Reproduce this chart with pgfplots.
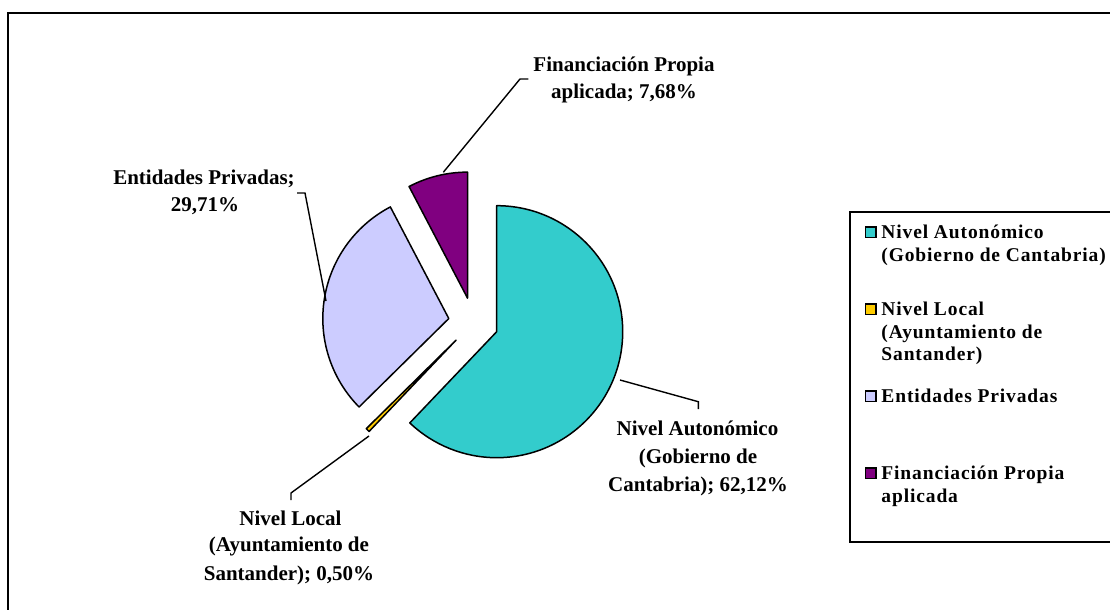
\documentclass[border=0pt]{standalone}
\usepackage{pgfplots}
\usepackage{pgfplotstable}
\pgfplotsset{compat=1.18}
\usepackage{fontspec}
\setmainfont{Liberation Serif}
\definecolor{turq}{HTML}{33CCCC}
\definecolor{yel}{HTML}{FFCC00}
\definecolor{lav}{HTML}{CCCCFF}
\definecolor{purp}{HTML}{800080}

\pgfplotstableread{
share
62.12
0.50
29.71
7.68
}\piedata

\begin{document}
\begin{tikzpicture}
\pgfplotstablegetelem{0}{share}\of\piedata \let\vA\pgfplotsretval
\pgfplotstablegetelem{1}{share}\of\piedata \let\vB\pgfplotsretval
\pgfplotstablegetelem{2}{share}\of\piedata \let\vC\pgfplotsretval
\pgfplotstablegetelem{3}{share}\of\piedata \let\vD\pgfplotsretval
\pgfmathsetmacro\tot{\vA+\vB+\vC+\vD}
\pgfmathsetmacro\aA{90}
\pgfmathsetmacro\aB{\aA-3.6*(\vA/\tot)*100}
\pgfmathsetmacro\aC{\aB-3.6*(\vB/\tot)*100}
\pgfmathsetmacro\aD{\aC-3.6*(\vC/\tot)*100}
\pgfmathsetmacro\aE{\aD-3.6*(\vD/\tot)*100}
\def\cx{473.5}\def\cy{322.4}\def\dd{25}
\pgfmathsetmacro\mA{(\aA+\aB)/2}
\pgfmathsetmacro\mB{(\aB+\aC)/2}
\pgfmathsetmacro\mC{(\aC+\aD)/2}
\pgfmathsetmacro\mD{(\aD+\aE)/2}
\pgfmathsetmacro\xA{\cx+\dd*cos(\mA)}\pgfmathsetmacro\yA{\cy-\dd*sin(\mA)}
\pgfmathsetmacro\xB{\cx+\dd*cos(\mB)}\pgfmathsetmacro\yB{\cy-\dd*sin(\mB)}
\pgfmathsetmacro\xC{\cx+\dd*cos(\mC)}\pgfmathsetmacro\yC{\cy-\dd*sin(\mC)}
\pgfmathsetmacro\xD{\cx+\dd*cos(\mD)}\pgfmathsetmacro\yD{\cy-\dd*sin(\mD)}
\begin{axis}[scale only axis, width=555pt, height=305pt,
  xmin=0, xmax=1110, ymin=0, ymax=610, y dir=reverse,
  hide axis, clip=false]
% outer frame (left and top edges visible)
\addplot[black, line width=1pt, mark=none] coordinates {(8,620) (8,12.5) (1120,12.5)};
% wedges
\filldraw[fill=turq, draw=black, line width=0.75pt, line join=round]
  (axis cs:\xA,\yA) -- ++(\aA:63pt) arc[start angle=\aA, end angle=\aB, radius=63pt] -- cycle;
\filldraw[fill=yel, draw=black, line width=0.75pt, line join=round]
  (axis cs:\xB,\yB) -- ++(\aB:63pt) arc[start angle=\aB, end angle=\aC, radius=63pt] -- cycle;
\filldraw[fill=lav, draw=black, line width=0.75pt, line join=round]
  (axis cs:\xC,\yC) -- ++(\aC:63pt) arc[start angle=\aC, end angle=\aD, radius=63pt] -- cycle;
\filldraw[fill=purp, draw=black, line width=0.75pt, line join=round]
  (axis cs:\xD,\yD) -- ++(\aD:63pt) arc[start angle=\aD, end angle=\aE, radius=63pt] -- cycle;
% leader lines
\addplot[black, line width=0.7pt, mark=none] coordinates {(443.3,172.3) (520,79) (528.3,79)};
\addplot[black, line width=0.7pt, mark=none] coordinates {(297,193) (305,193) (326,301)};
\addplot[black, line width=0.7pt, mark=none] coordinates {(620,380) (698.3,401.7) (698.3,409)};
\addplot[black, line width=0.7pt, mark=none] coordinates {(369,436) (291,493) (291,500)};
% data labels
\begin{scope}[every node/.style={anchor=base, inner sep=0pt, font=\fontsize{10.5}{14}\selectfont\bfseries}]
\node at (axis cs:624,71) {Financiación Propia};
\node at (axis cs:624,98.5) {aplicada; 7,68\%};
\node at (axis cs:204,184) {Entidades Privadas;};
\node at (axis cs:205,211.7) {29,71\%};
\node at (axis cs:697.5,435) {Nivel Autonómico};
\node at (axis cs:698,463) {(Gobierno de};
\node at (axis cs:698,491.7) {Cantabria); 62,12\%};
\node at (axis cs:290.5,525) {Nivel Local};
\node at (axis cs:289,551.7) {(Ayuntamiento de};
\node at (axis cs:289,580) {Santander); 0,50\%};
\end{scope}
% legend
\draw[black, line width=0.75pt] (axis cs:1115,212) -- (axis cs:850,212) -- (axis cs:850,542) -- (axis cs:1115,542);
\filldraw[fill=turq, draw=black, line width=0.6pt] (axis cs:865.5,227) rectangle (axis cs:876,237.5);
\filldraw[fill=yel, draw=black, line width=0.6pt] (axis cs:865.5,304) rectangle (axis cs:876,314.5);
\filldraw[fill=lav, draw=black, line width=0.6pt] (axis cs:865.5,391) rectangle (axis cs:876,401.5);
\filldraw[fill=purp, draw=black, line width=0.6pt] (axis cs:865.5,468) rectangle (axis cs:876,478.5);
\begin{scope}[every node/.style={anchor=base west, inner sep=0pt, font=\fontsize{9.75}{11.5}\selectfont\bfseries\addfontfeature{LetterSpace=4.5}}]
\node at (axis cs:881,238) {Nivel Autonómico};
\node at (axis cs:881,261) {(Gobierno de Cantabria)};
\node at (axis cs:881,315) {Nivel Local};
\node at (axis cs:881,338) {(Ayuntamiento de};
\node at (axis cs:881,360) {Santander)};
\node at (axis cs:881,402) {Entidades Privadas};
\node at (axis cs:881,479) {Financiación Propia};
\node at (axis cs:881,502) {aplicada};
\end{scope}
\end{axis}
\pgfresetboundingbox
\useasboundingbox (current axis.south west) rectangle (current axis.north east);
\end{tikzpicture}
\end{document}
